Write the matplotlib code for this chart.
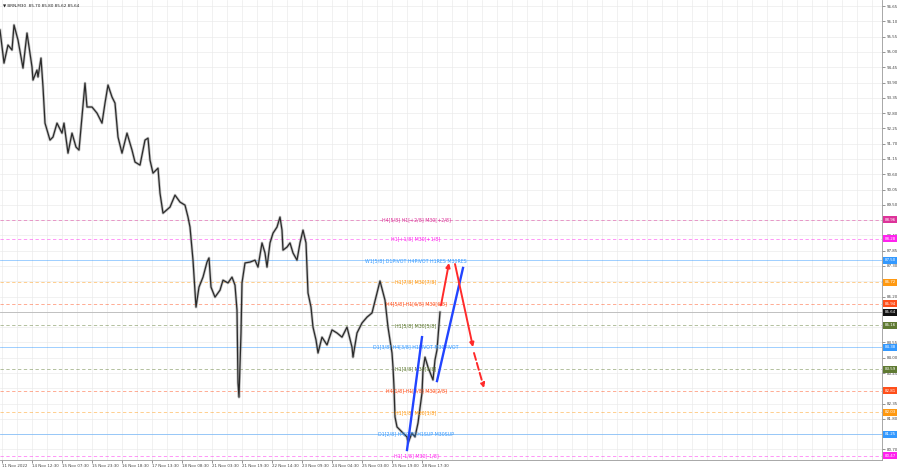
import numpy as np
import matplotlib
matplotlib.use("Agg")
import matplotlib.pyplot as plt
from matplotlib.transforms import blended_transform_factory

# M30 close path (bar index, price)
bar_idx = [0, 4, 8, 12, 14, 18, 23, 27, 32, 33, 37, 38, 41, 43, 45, 50, 53, 57, 62, 64,
           68, 72, 76, 79, 82, 85, 87, 92, 97, 102, 105, 108, 112, 115, 118, 122, 127, 132, 135, 140,
           145, 148, 150, 153, 158, 160, 163, 170, 175, 180, 185, 188, 190, 193, 196, 199, 203, 207, 209, 211,
           215, 220, 223, 228, 232, 235, 237, 238, 239, 241, 242, 245, 250, 255, 258, 262, 265, 267, 270, 273,
           277, 280, 282, 283, 287, 290, 293, 297, 300, 303, 306, 308, 311, 313, 316, 318, 322, 327, 332, 337,
           342, 347, 352, 353, 357, 362, 367, 372, 377, 380, 385, 388, 392, 393, 394, 395, 397, 400, 403, 407,
           408, 412, 415, 418, 422, 423, 425, 428, 432, 433, 435, 437, 438, 440]
close = [95.79, 94.60, 95.25, 95.07, 95.97, 95.43, 94.42, 95.68, 94.46, 93.99, 94.35, 94.10, 94.78, 93.74, 92.44, 91.83, 91.94, 92.44, 92.08, 92.44,
         91.36, 92.08, 91.58, 91.47, 92.66, 93.88, 93.02, 93.02, 92.80, 92.44, 93.16, 93.81, 93.38, 93.16, 91.94, 91.36, 92.08, 91.47, 91.04, 90.93,
         91.83, 91.90, 91.11, 90.64, 90.82, 89.92, 89.20, 89.42, 89.85, 89.60, 89.49, 89.06, 88.70, 87.51, 85.82, 86.54, 86.90, 87.44, 87.59, 86.54,
         86.18, 86.43, 86.79, 86.69, 86.90, 86.61, 85.71, 83.09, 82.58, 84.89, 86.69, 87.41, 87.44, 87.51, 87.26, 88.13, 87.77, 87.26, 88.13, 88.48,
         88.70, 89.06, 88.59, 87.87, 87.98, 88.13, 87.77, 87.51, 88.13, 88.59, 88.13, 86.33, 85.82, 85.10, 84.64, 84.17, 84.74, 84.46, 85.00, 84.89,
         84.74, 85.10, 84.38, 84.02, 84.89, 85.25, 85.46, 85.61, 86.33, 86.76, 86.07, 85.10, 84.17, 83.66, 82.94, 81.87, 81.51, 81.40, 81.29, 81.15,
         80.93, 81.29, 81.15, 81.65, 82.73, 83.56, 84.02, 83.66, 83.30, 83.20, 83.92, 84.28, 84.74, 85.64]

# Murrey-style levels
level_price = [88.96, 88.28, 87.50, 86.72, 85.94, 85.16, 84.38, 83.59, 82.81, 82.03, 81.25, 80.47]
level_text = ["H4[5/8] H1[+2/8] M30[+2/8]", "H1[+1/8] M30[+1/8]",
              "W1[5/8] D1PIVOT H4PIVOT H1RES M30RES", "H1[7/8] M30[7/8]",
              "H4[5/8] H1[6/8] M30[6/8]", "H1[5/8] M30[5/8]",
              "D1[3/8] H4[3/8] H1PIVOT M30PIVOT", "H1[3/8] M30[3/8]",
              "H4[1/8] H1[2/8] M30[2/8]", "H1[1/8] M30[1/8]",
              "D1[2/8] H4[0/8] H1SUP M30SUP", "H1[-1/8] M30[-1/8]"]
level_color = ["#dd3399", "#ff22ee", "#3399ff", "#ff9911", "#ff4f1a", "#5f7a32",
               "#3399ff", "#5f7a32", "#ff4f1a", "#ff9911", "#3399ff", "#ff22ee"]
level_style = ["--", "--", "-", "--", "--", "--", "-", "--", "--", "--", "-", "--"]

last_price = 85.64
header = "\u25BC BRN,M30  85.70 85.80 85.62 85.64"

price_ticks = [96.65, 96.10, 95.55, 95.00, 94.45, 93.90, 93.35, 92.80, 92.25, 91.70,
               91.15, 90.60, 90.05, 89.50, 88.95, 88.40, 87.85, 87.30, 86.75, 86.20,
               85.65, 85.10, 84.55, 84.00, 83.45, 82.90, 82.35, 81.80, 81.25, 80.70]
time_labels = ["11 Nov 2022", "14 Nov 12:30", "15 Nov 07:30", "15 Nov 23:30", "16 Nov 18:30",
               "17 Nov 13:30", "18 Nov 08:30", "21 Nov 03:30", "21 Nov 19:30", "22 Nov 14:30",
               "23 Nov 09:30", "24 Nov 04:30", "25 Nov 03:00", "25 Nov 19:00", "28 Nov 17:30"]

# forecast sketch: (bar0, price0, bar1, price1)
blue_lines = [(407, 80.68, 422, 84.74), (437, 83.16, 463, 87.23)]
red_arrows = [(441, 85.89, 449, 87.41), (455, 87.37, 473, 84.38)]
red_dashed = [(474, 84.17, 484, 82.91)]


def main():
    fig = plt.figure(figsize=(9, 4.68), dpi=100)
    ax = fig.add_axes([0.0, 8 / 468, 882 / 900, 1 - 8 / 468])
    ax.set_xlim(0, 882)
    ax.set_ylim(80.32, 96.87)

    # grid
    for gx in np.arange(2, 882, 15):
        ax.axvline(gx, color="#ebebeb", lw=0.5, zorder=0)
    for p in price_ticks:
        ax.axhline(p, color="#ebebeb", lw=0.5, zorder=0)

    # levels
    for p, t, c, ls in zip(level_price, level_text, level_color, level_style):
        ax.axhline(p, color=c, lw=0.6, ls=ls, dashes=(4, 3) if ls == "--" else (None, None),
                   alpha=0.55, zorder=1)
        ax.text(416, p, t, color=c, fontsize=3.4, ha="center", va="center", zorder=4)
    ax.axhline(last_price, color="#b8b8b8", lw=0.6, zorder=1)

    # price
    ax.plot(bar_idx, close, color="#8a8a8a", lw=2.0, alpha=0.5, zorder=2)
    ax.plot(bar_idx, close, color="#2b2b2b", lw=0.9, zorder=3)

    for x0, y0, x1, y1 in blue_lines:
        ax.plot([x0, x1], [y0, y1], color="#2244ff", lw=1.7, zorder=5)
    for x0, y0, x1, y1 in red_arrows:
        ax.annotate("", xy=(x1, y1), xytext=(x0, y0), zorder=5,
                    arrowprops=dict(arrowstyle="-|>", color="#ff2a2a", lw=1.4,
                                    mutation_scale=6, shrinkA=0, shrinkB=0))
    for x0, y0, x1, y1 in red_dashed:
        ax.annotate("", xy=(x1, y1), xytext=(x0, y0), zorder=5,
                    arrowprops=dict(arrowstyle="-|>", color="#ff2a2a", lw=1.4, ls="--",
                                    mutation_scale=6, shrinkA=0, shrinkB=0))

    # axes styling
    for s in ["left", "top"]:
        ax.spines[s].set_visible(False)
    ax.spines["right"].set_color("#9a9a9a")
    ax.spines["bottom"].set_color("#9a9a9a")
    ax.spines["right"].set_linewidth(0.6)
    ax.spines["bottom"].set_linewidth(0.6)

    # price boxes on the right scale
    box_prices = level_price[:5] + [last_price] + level_price[5:]
    box_colors = level_color[:5] + ["#111111"] + level_color[5:]

    # scale labels that sit under a box are hidden, as in the terminal
    shown = [f"{p:.2f}" if min(abs(p - b) for b in box_prices) > 0.1 else "" for p in price_ticks]
    ax.yaxis.tick_right()
    ax.set_yticks(price_ticks)
    ax.set_yticklabels(shown)
    ax.tick_params(axis="y", labelsize=2.9, length=2, width=0.4, pad=1.5, colors="#444444")

    tick_bars = np.arange(len(time_labels)) * 30 + 2
    ax.set_xticks(tick_bars)
    ax.set_xticklabels(time_labels, ha="left")
    ax.tick_params(axis="x", labelsize=2.9, length=2, width=0.4, pad=1, colors="#444444")

    tr = blended_transform_factory(ax.transAxes, ax.transData)
    for p, c in zip(box_prices, box_colors):
        ax.text(1.003, p, f"{p:.2f}", transform=tr, fontsize=2.9, color="white",
                ha="left", va="center", zorder=6, clip_on=False,
                bbox=dict(boxstyle="square,pad=0.35", fc=c, ec="none"))

    ax.text(0.003, 0.992, header, transform=ax.transAxes, fontsize=3.0,
            color="#222222", ha="left", va="top")

    fig.savefig("out.png", dpi=100, facecolor="white")


if __name__ == "__main__":
    main()
